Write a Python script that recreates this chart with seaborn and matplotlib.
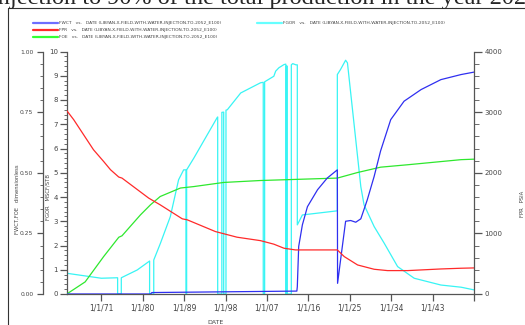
import matplotlib
matplotlib.use("Agg")
import matplotlib.pyplot as plt
from matplotlib.lines import Line2D
from matplotlib.ticker import MultipleLocator, FormatStrFormatter
import numpy as np
import pandas as pd
import seaborn as sns

# series (decimal year, value)
fwct_years = [1963.5, 1981.7, 1982.0, 2013.5, 2013.6, 2013.9, 2014.7, 2015.8, 2018.0,
              2020.1, 2022.3, 2022.35, 2023.0, 2024.1, 2025.2, 2026.3, 2027.4, 2028.8,
              2030.3, 2031.7, 2033.9, 2036.8, 2040.5, 2044.8, 2049.2, 2052.0]
fwct = [0.0, 0.0, 0.006, 0.012, 0.03, 0.196, 0.285, 0.36, 0.43,
        0.478, 0.512, 0.044, 0.14, 0.30, 0.303, 0.296, 0.31, 0.388,
        0.485, 0.59, 0.719, 0.795, 0.843, 0.884, 0.905, 0.915]

fpr_years = [1963.5, 1965.0, 1969.3, 1971.5, 1973.0, 1974.8, 1975.5, 1981.3, 1983.8,
             1988.6, 1989.7, 1995.8, 2000.5, 2005.6, 2008.5, 2010.7, 2013.2, 2022.3,
             2023.8, 2026.7, 2030.3, 2033.2, 2037.6, 2044.8, 2049.2, 2052.0]
fpr = [3025, 2876, 2380, 2187, 2050, 1929, 1912, 1582, 1471,
       1240, 1223, 1030, 937, 880, 822, 755, 727, 727,
       617, 479, 408, 386, 386, 413, 425, 430]

foe_years = [1963.5, 1967.5, 1971.5, 1974.8, 1975.5, 1979.5, 1981.7, 1983.8, 1988.2,
             1991.1, 1997.6, 2005.6, 2022.3, 2026.7, 2031.7, 2037.6, 2049.2, 2052.0]
foe = [0.0, 0.05, 0.154, 0.234, 0.24, 0.326, 0.368, 0.402, 0.437,
       0.443, 0.46, 0.468, 0.478, 0.501, 0.523, 0.533, 0.554, 0.556]

fgor_years = [1963.5, 1971.0, 1974.55, 1974.55, 1975.35, 1975.35, 1978.8, 1981.5,
              1981.5, 1982.4, 1982.4, 1983.85, 1986.0, 1987.8, 1988.9, 1989.4,
              1989.4, 1989.55, 1989.55, 1991.1, 1996.2, 1996.3, 1996.3, 1997.2,
              1997.2, 1997.6, 1997.6, 1998.1, 1998.1, 1998.4, 2001.3, 2005.6,
              2006.2, 2006.2, 2006.5, 2006.5, 2008.5, 2008.9, 2009.6, 2010.7,
              2011.1, 2011.1, 2011.25, 2011.25, 2011.4, 2011.4, 2012.3, 2012.3,
              2012.6, 2013.3, 2013.6, 2013.6, 2014.7, 2022.3, 2022.3, 2023.0,
              2024.1, 2024.5, 2027.4, 2028.1, 2030.3, 2032.5, 2035.4, 2039.0,
              2044.8, 2049.2, 2052.0]
fgor = [0.855, 0.65, 0.67, 0.0, 0.0, 0.67, 0.99, 1.36,
        0.0, 0.0, 1.40, 2.09, 3.19, 4.71, 5.12, 5.12,
        0.0, 0.0, 5.12, 5.6, 7.28, 7.3, 0.0, 0.0,
        7.49, 7.5, 0.0, 0.0, 7.58, 7.6, 8.29, 8.71,
        8.73, 0.0, 0.0, 8.75, 8.98, 9.19, 9.33, 9.46,
        9.48, 0.0, 0.0, 9.4, 9.4, 0.0, 0.0, 9.45,
        9.5, 9.45, 9.45, 2.85, 3.26, 3.43, 9.05, 9.26,
        9.64, 9.53, 4.43, 3.68, 2.78, 2.09, 1.13, 0.65,
        0.37, 0.28, 0.17]

tick_years = [1971, 1980, 1989, 1998, 2007, 2016, 2025, 2034, 2043, 2052]
tick_labels = ["1/1/71", "1/1/80", "1/1/89", "1/1/98", "1/1/07", "1/1/16",
               "1/1/25", "1/1/34", "1/1/43", ""]

case = "DATE (LIBYAN-X-FIELD-WITH-WATER-INJECTION-TO-2052_E100)"


def to_date(years):
    years = np.asarray(years, dtype=float)
    whole = np.floor(years).astype(int)
    start = pd.to_datetime([f"{y}-01-01" for y in whole])
    return start + pd.to_timedelta((years - whole) * 365.25, unit="D")


sns.set_style("ticks")
plt.rcParams["font.family"] = ["DejaVu Sans"]

W, H = 525, 325
fig = plt.figure(figsize=(W / 100, H / 100), dpi=100)
ax = fig.add_axes([67 / W, 1 - 294 / H, (474 - 67) / W, (294 - 51.5) / H])
ax2 = ax.twinx()
ax3 = ax.twinx()

blue, red, green, cyan = "#2f2ff0", "#ff2a2a", "#2ee82e", "#38f4f4"
lw = 0.9

sns.lineplot(x=to_date(fgor_years), y=fgor, ax=ax, color=cyan, lw=lw,
             estimator=None, sort=False)
sns.lineplot(x=to_date(foe_years), y=foe, ax=ax2, color=green, lw=lw,
             estimator=None, sort=False)
sns.lineplot(x=to_date(fwct_years), y=fwct, ax=ax2, color=blue, lw=lw,
             estimator=None, sort=False)
sns.lineplot(x=to_date(fpr_years), y=fpr, ax=ax3, color=red, lw=lw,
             estimator=None, sort=False)

ax.set_xlim(to_date([1963.55])[0], to_date([2052.0])[0])
ax.set_ylim(0, 10)
ax2.set_ylim(0, 1)
ax3.set_ylim(0, 4000)

spine_c, text_c = "#555555", "#444444"

# host axis: FGOR on the inner left, dates along the bottom
for s in ["top", "right"]:
    ax.spines[s].set_visible(False)
for s in ["left", "bottom"]:
    ax.spines[s].set_color(spine_c)
    ax.spines[s].set_linewidth(0.9)
ax.set_xticks(to_date(tick_years))
ax.set_xticklabels(tick_labels)
ax.yaxis.set_major_locator(MultipleLocator(1))
ax.yaxis.set_minor_locator(MultipleLocator(0.2))
ax.tick_params(axis="x", length=5, width=0.9, color=spine_c, labelsize=5.5,
               labelcolor=text_c, pad=2)
ax.tick_params(axis="y", which="major", length=5, width=0.9, color=spine_c,
               labelsize=5, labelcolor=text_c, pad=1.5)
ax.tick_params(axis="y", which="minor", length=2.5, width=0.6, color=spine_c, left=True)

# FWCT / FOE on the outer left (24 px further out)
for s in ["top", "right", "bottom"]:
    ax2.spines[s].set_visible(False)
ax2.spines["left"].set_visible(True)
ax2.spines["left"].set_position(("outward", 24 * 0.72))
ax2.spines["left"].set_color(spine_c)
ax2.spines["left"].set_linewidth(0.9)
ax2.yaxis.set_ticks_position("left")
ax2.yaxis.set_label_position("left")
ax2.yaxis.set_major_locator(MultipleLocator(0.25))
ax2.yaxis.set_minor_locator(MultipleLocator(0.05))
ax2.yaxis.set_major_formatter(FormatStrFormatter("%.2f"))
ax2.tick_params(axis="y", which="major", length=4.5, width=0.9, color=spine_c,
                labelsize=4.3, labelcolor=text_c, pad=2.5)
ax2.tick_params(axis="y", which="minor", length=2.5, width=0.6, color=spine_c, left=True)

# FPR on the right
for s in ["top", "left", "bottom"]:
    ax3.spines[s].set_visible(False)
ax3.spines["right"].set_color(spine_c)
ax3.spines["right"].set_linewidth(0.9)
ax3.yaxis.set_major_locator(MultipleLocator(1000))
ax3.yaxis.set_minor_locator(MultipleLocator(200))
ax3.tick_params(axis="y", which="major", length=6, width=0.9, color=spine_c,
                labelsize=5, labelcolor=text_c, pad=1.5)
ax3.tick_params(axis="y", which="minor", length=3.5, width=0.6, color=spine_c, right=True)

lab = dict(fontsize=3.8, color=text_c)
ax.set_xlabel("DATE", fontsize=4.5, color=text_c)
ax.xaxis.set_label_coords((216 - 67) / 407, -0.107)
ax.set_ylabel("FGOR   MSCF/STB", **lab)
ax.yaxis.set_label_coords((50 - 67) / 407, 0.40)
ax2.set_ylabel("FWCT,FOE   dimensionless", **lab)
ax2.yaxis.set_label_coords((20 - 67) / 407, 0.39)
ax3.set_ylabel("FPR   PSIA", **lab)
ax3.yaxis.set_label_coords((520 - 67) / 407, 0.37)


# legends above the plot
def handle(c):
    return Line2D([], [], color=c, lw=1.6)


leg_kw = dict(frameon=False, fontsize=3.2, handlelength=5.6, handletextpad=0.3,
              labelspacing=0.65, borderpad=0, borderaxespad=0, loc="upper left")
leg1 = fig.legend([handle("#6e6eff"), handle(red), handle("#33ff33")],
                  [f"FWCT   vs.   {case}", f"FPR   vs.   {case}", f"FOE   vs.   {case}"],
                  bbox_to_anchor=(33 / W, 1 - 21 / H), **leg_kw)
for t in leg1.get_texts():
    t.set_color(text_c)
leg2 = fig.legend([handle("#66ffff")], [f"FGOR   vs.   {case}"],
                  bbox_to_anchor=(257 / W, 1 - 21 / H), **leg_kw)
for t in leg2.get_texts():
    t.set_color(text_c)

# page frame and the clipped sentence above it
fig.add_artist(Line2D([8 / W, 8 / W], [0, 1 - 8 / H], transform=fig.transFigure,
                      color="#333333", lw=0.8))
fig.add_artist(Line2D([8 / W, 1], [1 - 8 / H, 1 - 8 / H], transform=fig.transFigure,
                      color="#333333", lw=0.8))
fig.text(-9 / W, 1 - 4 / H, "injection to 90% of the total production in the year 2025.",
         family="Liberation Serif", fontsize=17.5, va="baseline", ha="left")

fig.savefig("out.png", dpi=100)
